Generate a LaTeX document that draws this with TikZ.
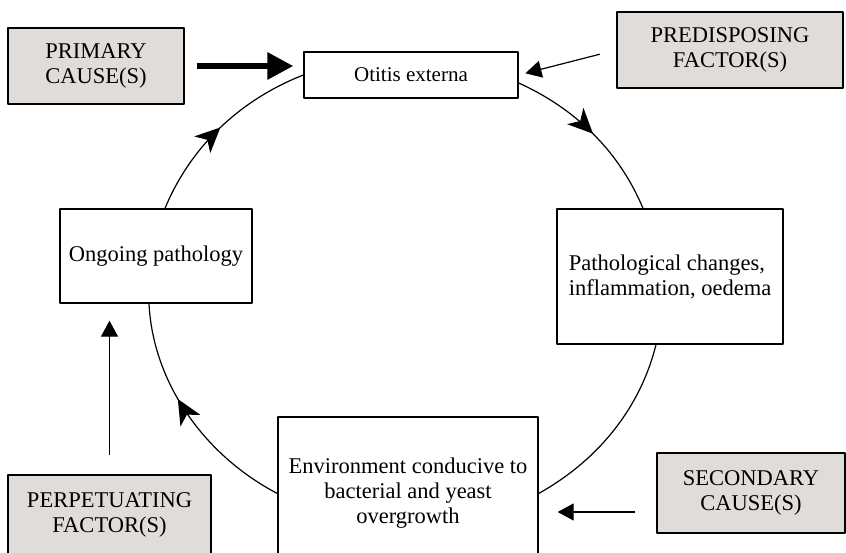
\documentclass[tikz,border=0pt]{standalone}
\usepackage{fontspec}
\setmainfont{Liberation Serif}
\usetikzlibrary{arrows.meta,decorations.markings}
\definecolor{causegray}{RGB}{223,220,217}
\begin{document}
\begin{tikzpicture}[x=1pt,y=1pt,line join=round,
	cause/.style={draw,line width=1.5pt,fill=causegray,align=center,inner sep=0pt,font=\fontsize{22.5}{25}\selectfont},
	stage/.style={draw,line width=1.3pt,fill=white,align=center,inner sep=0pt,font=\fontsize{22.5}{25}\selectfont},
	feed/.style={line width=1.2pt,-{Triangle[length=16pt,width=17pt]}},
	cyc/.style={line width=1.2pt},
	midarrow/.style={postaction={decorate},decoration={markings,mark=at position #1 with {\arrow{Stealth[length=25pt,width=23pt,inset=7pt]}}}},
	midarrow/.default=0.5]
		\useasboundingbox (0,0) rectangle (846,-553);
		\clip (0,0) rectangle (846,-553);
		\node[cause,minimum width=176pt,minimum height=76pt] (primary) at (96,-66) {PRIMARY\\CAUSE(S)};
		\node[cause,minimum width=226pt,minimum height=76pt] (predis) at (730,-50) {PREDISPOSING\\FACTOR(S)};
		\node[cause,minimum width=203pt,minimum height=80pt] (perpet) at (109.5,-515) {PERPETUATING\\FACTOR(S)};
		\node[cause,minimum width=188pt,minimum height=80pt] (second) at (751,-493) {SECONDARY\\CAUSE(S)};
		\node[stage,minimum width=214pt,minimum height=46pt,font=\fontsize{21}{25}\selectfont] (otitis) at (411,-75) {Otitis externa};
		\node[stage,minimum width=192pt,minimum height=94pt] (ongoing) at (156,-256) {Ongoing pathology};
		\node[stage,minimum width=226pt,minimum height=135pt,align=left] (patho) at (670,-276.5) {Pathological changes,\\inflammation, oedema};
		\node[stage,minimum width=260pt,minimum height=153pt] (env) at (408,-493.5) {Environment conducive to\\bacterial and yeast\\overgrowth};
		% the cycle
		\draw[cyc,midarrow] ([xshift=9pt]ongoing.north) to[out=67.5,in=201.4,looseness=0.9] (otitis.west);
		\draw[cyc,midarrow] ([yshift=-8pt]otitis.east) to[out=-24.3,in=112.7,looseness=0.9] ([xshift=-27pt]patho.north);
		\draw[cyc] ([xshift=-14pt]patho.south) to[out=256,in=29.2,looseness=0.9] (env.east);
		\draw[cyc,midarrow=0.58] (env.west) to[out=152.4,in=-87.1,looseness=0.9] ([xshift=-7pt]ongoing.south);
		% the factors
		\draw[line width=6pt,-{Triangle[length=26pt,width=26pt]},shorten <=12pt,shorten >=10pt] (primary.east) -- (primary.east -| otitis.west);
		\draw[feed,shorten <=17pt,shorten >=7pt] (predis.west) -- (otitis.east);
		\draw[feed,shorten <=19pt,shorten >=17pt] (perpet.north) -- (perpet.north |- ongoing.south);
		\draw[feed,shorten <=21pt,shorten >=19pt] ([yshift=-19pt]second.west) -- ([yshift=-19pt]second.west -| env.east);
\end{tikzpicture}
\end{document}
